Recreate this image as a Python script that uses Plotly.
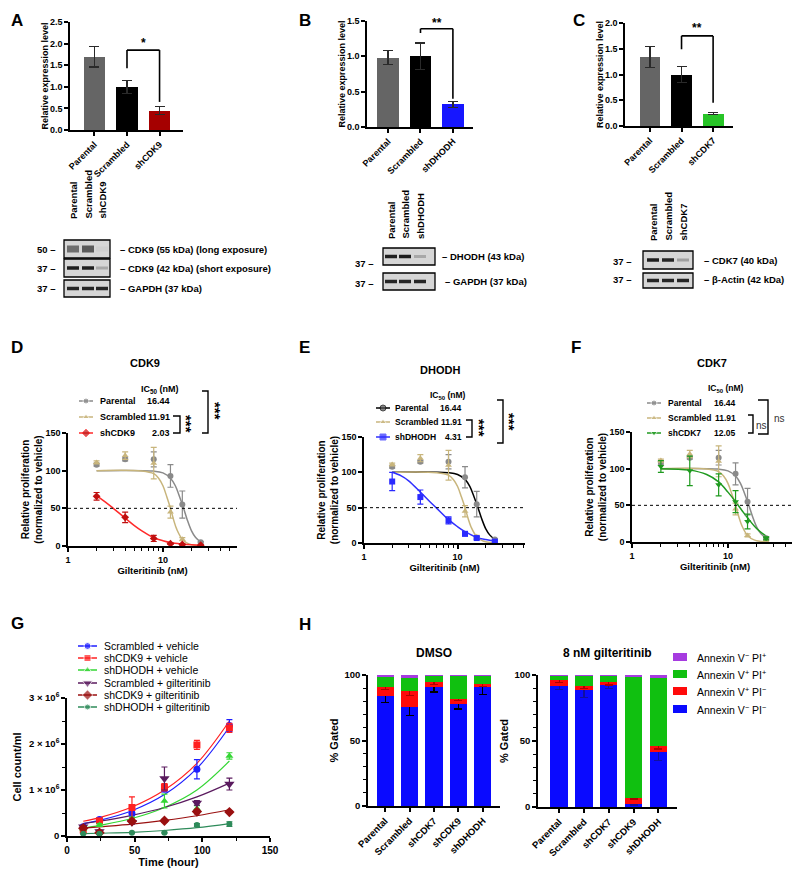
import plotly.graph_objects as go

FONT = "Arial, 'Liberation Sans', sans-serif"
W, H = 800, 874
OFF = 8  # the page body adds an 8 px margin around the plot div

# ---------------- data ----------------
# A-C  relative expression (qPCR)
cdk9_lines = ["Parental", "Scrambled", "shCDK9"]
cdk9_expr = [1.70, 1.00, 0.45]
cdk9_expr_sd = [0.24, 0.15, 0.09]

dhodh_lines = ["Parental", "Scrambled", "shDHODH"]
dhodh_expr = [0.98, 1.00, 0.32]
dhodh_expr_sd = [0.10, 0.19, 0.04]

cdk7_lines = ["Parental", "Scrambled", "shCDK7"]
cdk7_expr = [1.34, 1.00, 0.24]
cdk7_expr_sd = [0.20, 0.16, 0.02]

# D-F  dose response
dose_nM = [2, 4, 8, 12, 16, 25]
parental_prolif = [108, 115, 115, 93, 55, 5]
parental_err = [2, 2, 10, 15, 18, 1]
scrambled_prolif = [111, 120, 110, 45, 9, 1]
scrambled_err = [2, 5, 21, 8, 2, 1]
shcdk9_prolif = [66, 38, 10, 3, 2, 1]
shcdk9_err = [5, 7, 4, 1, 1, 0.5]
shdhodh_prolif = [87, 65, 32, 13, 7, 2]
shdhodh_err = [13, 10, 5, 3, 2, 1]
shcdk7_prolif = [103, 97, 78, 55, 28, 5]
shcdk7_err = [8, 20, 15, 15, 10, 2]

# fitted curves
fit_parental_x = [2, 8, 10, 12, 13.5, 15, 16.5, 18, 20, 22, 25]
fit_parental_y = [100, 99.4, 97, 90, 80, 65, 50, 35, 20, 11.5, 5]
fit_scrambled_x = [2, 6, 8, 9, 10, 11, 12, 13, 14, 16, 19, 25]
fit_scrambled_y = [100, 99.5, 96, 90, 80, 65, 50, 34, 22, 9, 2.5, 0.3]
fit_shcdk9_x = [2, 2.5, 3, 4, 5, 6, 8, 10, 12, 16, 20, 25]
fit_shcdk9_y = [67, 58, 50, 37, 27, 20, 11, 7, 4.5, 2.5, 1.5, 1]
fit_shdhodh_x = [2, 2.5, 3, 4, 5, 6, 8, 10, 12, 16, 20, 25]
fit_shdhodh_y = [100, 95, 88, 72, 59, 49, 33, 23, 16, 8, 5, 3]
fit_shcdk7_x = [2, 4, 6, 8, 10, 12, 14, 16, 20, 25]
fit_shcdk7_y = [100, 98, 92, 82, 68, 55, 43, 33, 18, 8]

ic50_cdk9 = ["16.44", "11.91", "2.03"]
ic50_dhodh = ["16.44", "11.91", "4.31"]
ic50_cdk7 = ["16.44", "11.91", "12.05"]

# G  growth curves (cells/ml, x1e6)
time_h = [12, 24, 48, 72, 96, 120]
scr_veh = [0.20, 0.36, 0.49, 1.02, 1.45, 2.40]
scr_veh_err = [0.03, 0.03, 0.05, 0.06, 0.21, 0.13]
cdk9_veh = [0.13, 0.33, 0.62, 1.06, 1.98, 2.35]
cdk9_veh_err = [0.05, 0.04, 0.23, 0.08, 0.10, 0.10]
dhodh_veh = [0.15, 0.24, 0.37, 0.76, 0.60, 1.74]
dhodh_veh_err = [0.03, 0.03, 0.04, 0.15, 0.06, 0.07]
scr_gil = [0.20, 0.10, 0.30, 1.25, 0.72, 1.13]
scr_gil_err = [0.02, 0.03, 0.04, 0.25, 0.05, 0.13]
cdk9_gil = [0.17, 0.07, 0.32, 0.33, 0.53, 0.52]
cdk9_gil_err = [0.02, 0.02, 0.03, 0.03, 0.05, 0.03]
dhodh_gil = [0.05, 0.05, 0.07, 0.07, 0.24, 0.26]
dhodh_gil_err = [0.01, 0.01, 0.01, 0.01, 0.03, 0.05]

scr_veh_fit = [0.27, 0.34, 0.55, 0.90, 1.47, 2.37]
cdk9_veh_fit = [0.32, 0.40, 0.63, 1.00, 1.58, 2.50]
dhodh_veh_fit = [0.17, 0.23, 0.38, 0.62, 1.00, 1.63]
scr_gil_fit = [0.27, 0.32, 0.45, 0.62, 0.85, 1.15]
cdk9_gil_fit = [0.17, 0.20, 0.26, 0.34, 0.44, 0.57]
dhodh_gil_fit = [0.05, 0.06, 0.08, 0.12, 0.18, 0.27]

# H  apoptosis (% gated)
h_lines = ["Parental", "Scrambled", "shCDK7", "shCDK9", "shDHODH"]
dmso_vneg_pineg = [84, 75.5, 90.5, 78, 91]
dmso_vpos_pineg = [6.5, 12, 4.5, 3.5, 2]
dmso_vpos_pipos = [8.5, 10.5, 4.5, 18, 6.5]
dmso_vneg_pipos = [1, 2, 0.5, 0.5, 0.5]
dmso_blue_err = [5, 6.5, 3.5, 4, 6]
dmso_red_err = [1.5, 3, 2.5, 1, 1.5]
gil_vneg_pineg = [92, 89, 92.5, 2, 42]
gil_vpos_pineg = [4, 3, 2.5, 5, 4]
gil_vpos_pipos = [3.5, 7.5, 4.5, 91.5, 52]
gil_vneg_pipos = [0.5, 0.5, 0.5, 1.5, 2]
gil_blue_err = [3, 6, 3, 0.5, 7]
gil_red_err = [1.5, 2, 2.5, 1, 2]

# ---------------- helpers ----------------
def xdom(a, b):
    return [(a - OFF) / W, (b - OFF) / W]

def ydom(top, bot):
    return [1 - (bot - OFF) / H, 1 - (top - OFF) / H]

def bfont(size, bold=True, color="black"):
    return dict(family=FONT, size=size, color=color, weight="bold" if bold else "normal")

def axis(**kw):
    d = dict(showline=True, linecolor="black", linewidth=1.5, ticks="outside",
             ticklen=4, tickwidth=1.5, tickcolor="black", showgrid=False,
             zeroline=False, tickfont=bfont(9), fixedrange=True, automargin=False)
    d.update(kw)
    return d

def ax_title(text, size=9.5, standoff=None):
    t = dict(text=text, font=bfont(size))
    if standoff is not None:
        t["standoff"] = standoff
    return t

fig = go.Figure()
anns = []
shapes = []

def txt(x, y, s, size=9.5, bold=True, xa="center", ya="middle", angle=0, color="black"):
    anns.append(dict(x=x, y=y, xref="x10", yref="y10", text=s, showarrow=False,
                     xanchor=xa, yanchor=ya, textangle=angle, font=bfont(size, bold, color)))

def pline(pts, width=1.4, color="black"):
    path = "M " + " L ".join(f"{x},{y}" for x, y in pts)
    shapes.append(dict(type="path", path=path, xref="x10", yref="y10",
                       line=dict(color=color, width=width), layer="above"))

def prect(x0, y0, x1, y1, fill, lw=0, lc="black"):
    shapes.append(dict(type="rect", x0=x0, x1=x1, y0=y0, y1=y1, xref="x10", yref="y10",
                       fillcolor=fill, line=dict(color=lc, width=lw), layer="above"))

# ---------------- A-C bars ----------------
GRAY = "#656565"
bar_panels = [
    ("", cdk9_lines, cdk9_expr, cdk9_expr_sd, "#a50000"),
    ("2", dhodh_lines, dhodh_expr, dhodh_expr_sd, "#1616ff"),
    ("3", cdk7_lines, cdk7_expr, cdk7_expr_sd, "#27c427"),
]
for ax, labels, mean, sd, col in bar_panels:
    fig.add_trace(go.Bar(x=labels, y=mean, width=0.66,
                         marker=dict(color=[GRAY, "black", col], line=dict(width=0)),
                         error_y=dict(type="data", array=sd, color="#2a2a2a", thickness=1.2, width=5),
                         xaxis="x" + ax, yaxis="y" + ax, showlegend=False, hoverinfo="skip"))

def bracket(ax, left_y, top_y, right_y, a, b, label, star_y):
    xr, yr = "x" + ax, "y" + ax
    for x0, y0, x1, y1 in [(a, left_y, a, top_y), (a, top_y, b, top_y), (b, top_y, b, right_y)]:
        shapes.append(dict(type="line", x0=x0, x1=x1, y0=y0, y1=y1, xref=xr, yref=yr,
                           line=dict(color="black", width=1.6)))
    anns.append(dict(x=1.5, y=star_y, xref=xr, yref=yr, text=label, showarrow=False,
                     font=bfont(12)))

bracket("", 1.43, 1.85, 0.65, "Scrambled", "shCDK9", "*", 2.02)
bracket("2", 1.33, 1.39, 0.40, "Scrambled", "shDHODH", "**", 1.47)
bracket("3", 1.49, 1.75, 0.45, "Scrambled", "shCDK7", "**", 1.90)

# ---------------- D-F dose response ----------------
C_PAR = "#8a8a8a"
C_SCR = "#c8b57c"

def dr_panel(ax, curves, points):
    for fx, fy, col in curves:
        fig.add_trace(go.Scatter(x=fx, y=fy, mode="lines", line=dict(color=col, width=1.5, shape="spline"),
                                 xaxis="x" + ax, yaxis="y" + ax, showlegend=False, hoverinfo="skip"))
    for y, err, col, sym, size in points:
        fig.add_trace(go.Scatter(x=dose_nM, y=y, mode="markers",
                                 marker=dict(color=col, symbol=sym, size=size),
                                 error_y=dict(type="data", array=err, color=col, thickness=1.2, width=3),
                                 xaxis="x" + ax, yaxis="y" + ax, showlegend=False, hoverinfo="skip"))
    shapes.append(dict(type="line", xref="x" + ax + " domain", x0=0, x1=1, yref="y" + ax, y0=50, y1=50,
                       line=dict(color="black", width=1, dash="dot")))

dr_panel("4",
         [(fit_parental_x, fit_parental_y, C_PAR), (fit_scrambled_x, fit_scrambled_y, C_SCR),
          (fit_shcdk9_x, fit_shcdk9_y, "#ff2a2a")],
         [(parental_prolif, parental_err, C_PAR, "circle", 6),
          (scrambled_prolif, scrambled_err, C_SCR, "triangle-up", 6),
          (shcdk9_prolif, shcdk9_err, "#c01010", "diamond", 6)])
dr_panel("5",
         [(fit_parental_x, fit_parental_y, "black"), (fit_scrambled_x, fit_scrambled_y, C_SCR),
          (fit_shdhodh_x, fit_shdhodh_y, "#3030ff")],
         [(parental_prolif, parental_err, C_PAR, "circle", 6),
          (scrambled_prolif, scrambled_err, C_SCR, "triangle-up", 6),
          (shdhodh_prolif, shdhodh_err, "#2a2aff", "square", 6)])
dr_panel("6",
         [(fit_parental_x, fit_parental_y, C_PAR), (fit_scrambled_x, fit_scrambled_y, C_SCR),
          (fit_shcdk7_x, fit_shcdk7_y, "#1f9a1f")],
         [(parental_prolif, parental_err, C_PAR, "circle", 6),
          (scrambled_prolif, scrambled_err, C_SCR, "triangle-up", 6),
          (shcdk7_prolif, shcdk7_err, "#1f9a1f", "triangle-down", 6)])

# ---------------- G growth ----------------
g_series = [
    ("Scrambled + vehicle", scr_veh, scr_veh_err, scr_veh_fit, "#1e1eff", "circle", 7),
    ("shCDK9 + vehicle", cdk9_veh, cdk9_veh_err, cdk9_veh_fit, "#ff2020", "square", 7),
    ("shDHODH + vehicle", dhodh_veh, dhodh_veh_err, dhodh_veh_fit, "#33d633", "triangle-up", 7),
    ("Scrambled + gilteritinib", scr_gil, scr_gil_err, scr_gil_fit, "#5a1a5e", "triangle-down", 9),
    ("shCDK9 + gilteritinib", cdk9_gil, cdk9_gil_err, cdk9_gil_fit, "#9a1010", "diamond", 8),
    ("shDHODH + gilteritinib", dhodh_gil, dhodh_gil_err, dhodh_gil_fit, "#2e8b5a", "circle", 6),
]
for name, y, err, fit, col, sym, size in g_series:
    fig.add_trace(go.Scatter(x=time_h, y=[v * 1e6 for v in fit], mode="lines",
                             line=dict(color=col, width=1.2, shape="spline"),
                             xaxis="x7", yaxis="y7", showlegend=False, hoverinfo="skip"))
for name, y, err, fit, col, sym, size in g_series:
    fig.add_trace(go.Scatter(x=time_h, y=[v * 1e6 for v in y], mode="markers",
                             marker=dict(color=col, symbol=sym, size=size),
                             error_y=dict(type="data", array=[e * 1e6 for e in err], color=col,
                                          thickness=1.2, width=3),
                             xaxis="x7", yaxis="y7", showlegend=False, hoverinfo="skip"))

# ---------------- H stacked bars ----------------
C_BLUE, C_RED, C_GREEN, C_PURP = "#0a0aff", "#ff0a0a", "#10c010", "#a63be0"
for ax, stacks, berr, rerr, bcol in [
        ("8", [dmso_vneg_pineg, dmso_vpos_pineg, dmso_vpos_pipos, dmso_vneg_pipos], dmso_blue_err, dmso_red_err, "black"),
        ("9", [gil_vneg_pineg, gil_vpos_pineg, gil_vpos_pipos, gil_vneg_pipos], gil_blue_err, gil_red_err, "#1010a0")]:
    for vals, col, err, ecol in zip(stacks, [C_BLUE, C_RED, C_GREEN, C_PURP],
                                    [berr, rerr, None, None], [bcol, "#b00000", None, None]):
        kw = {}
        if err is not None:
            kw["error_y"] = dict(type="data", array=err, color=ecol, thickness=1.2, width=4)
        fig.add_trace(go.Bar(x=h_lines, y=vals, width=0.7, marker=dict(color=col, line=dict(width=0)),
                             xaxis="x" + ax, yaxis="y" + ax, showlegend=False, hoverinfo="skip", **kw))

# ---------------- overlay: legends, blots, labels ----------------
def glyph(x1, x2, y, lcol, mcol, sym, size):
    fig.add_trace(go.Scatter(x=[x1, (x1 + x2) / 2, x2], y=[y, y, y], mode="lines+markers",
                             line=dict(color=lcol, width=1.5),
                             marker=dict(color=mcol, symbol=sym, size=[0, size, 0]),
                             xaxis="x10", yaxis="y10", showlegend=False, hoverinfo="skip"))

# D legend
for (nm, val, lcol, mcol, sym), yy in zip(
        [("Parental", ic50_cdk9[0], C_PAR, C_PAR, "circle"),
         ("Scrambled", ic50_cdk9[1], C_SCR, C_SCR, "triangle-up"),
         ("shCDK9", ic50_cdk9[2], "#ff2a2a", "#c01010", "diamond")], [401, 417, 433]):
    glyph(79, 93, yy, lcol, mcol, sym, 6)
    txt(98, yy, nm, size=9, xa="left")
    txt(172, yy, val, size=9, xa="right")
txt(160, 389, "IC<sub>50</sub> (nM)", size=9)
pline([(173, 416), (180, 416), (180, 433), (173, 433)])
txt(187, 424, "***", size=15, angle=90)
pline([(202, 391), (208, 391), (208, 433), (202, 433)])
txt(216, 411, "***", size=15, angle=90)

# E legend
for (nm, val, lcol, mcol, sym), yy in zip(
        [("Parental", ic50_dhodh[0], "black", "#555555", "circle"),
         ("Scrambled", ic50_dhodh[1], C_SCR, C_SCR, "triangle-up"),
         ("shDHODH", ic50_dhodh[2], "#3030ff", "#2a2aff", "square")], [408, 422, 437]):
    glyph(376, 390, yy, lcol, mcol, sym, 6)
    txt(393, yy, nm, size=8.5, xa="left")
    txt(464, yy, val, size=8.5, xa="right")
txt(448, 395, "IC<sub>50</sub> (nM)", size=8.5)
pline([(466, 420), (472, 420), (472, 437), (466, 437)])
txt(480, 428, "***", size=15, angle=90)
pline([(497, 400), (503, 400), (503, 443), (497, 443)])
txt(510, 422, "***", size=15, angle=90)

# F legend
for (nm, val, lcol, mcol, sym), yy in zip(
        [("Parental", ic50_cdk7[0], C_PAR, C_PAR, "circle"),
         ("Scrambled", ic50_cdk7[1], C_SCR, C_SCR, "triangle-up"),
         ("shCDK7", ic50_cdk7[2], "#1f9a1f", "#1f9a1f", "triangle-down")], [403, 418, 433]):
    glyph(647, 661, yy, lcol, mcol, sym, 6)
    txt(666, yy, nm, size=8.5, xa="left")
    txt(738, yy, val, size=8.5, xa="right")
txt(726, 388, "IC<sub>50</sub> (nM)", size=8.5)
pline([(748, 415), (753, 415), (753, 433), (748, 433)])
txt(761, 425, "ns", size=10, bold=False, color="#333")
pline([(758, 400), (768, 400), (768, 434), (758, 434)])
txt(779, 418, "ns", size=10, bold=False, color="#333")

# G legend
for (name, y, err, fit, col, sym, size), yy in zip(g_series, [646, 658, 670, 683, 695, 707]):
    glyph(78, 97, yy, col, col, sym, size)
    txt(102, yy, name, size=10.5, bold=False, xa="left")

# H legend
h_leg = [("Annexin V<sup>−</sup> PI<sup>+</sup>", C_PURP), ("Annexin V<sup>+</sup> PI<sup>+</sup>", C_GREEN),
         ("Annexin V<sup>+</sup> PI<sup>−</sup>", C_RED), ("Annexin V<sup>−</sup> PI<sup>−</sup>", C_BLUE)]
for (lab, col), yy in zip(h_leg, [657, 674, 691, 709]):
    prect(673, yy - 4, 687, yy + 4, col)
    txt(695, yy, lab, size=10.5, bold=False, xa="left")

# panel letters and titles
for letter, x, y, ya in [("A", 8.5, 8.5, "top"), ("B", 297, 8.5, "top"), ("C", 571, 8.5, "top"),
                         ("D", 8.5, 347, "middle"), ("E", 297, 347, "middle"), ("F", 569, 347, "middle"),
                         ("G", 8.5, 623, "middle"), ("H", 297, 624, "middle")]:
    txt(x, y, letter, size=17, xa="left", ya=ya)
txt(145, 363, "CDK9", size=11)
txt(440, 370, "DHODH", size=11)
txt(712, 363, "CDK7", size=11)
txt(434, 653, "DMSO", size=12)
txt(607, 653, "8 nM gilteritinib", size=12)

# western blots
def blot(x0, x1, rows, lanes, bands):
    for (t, b), row in zip(rows, bands):
        prect(x0, t, x1, b, "#d6d6d6", lw=1.3)
        for lx, (col, th) in zip(lanes, row):
            if col:
                prect(lx - 6, (t + b) / 2 - th / 2, lx + 6, (t + b) / 2 + th / 2, col)

# A blot
a_lanes = [73, 88, 102]
for lx, lab in zip(a_lanes, cdk9_lines):
    txt(lx, 221, lab, size=9.5, angle=-90, ya="bottom")
blot(64, 110, [(240, 258), (259, 277), (280, 297)], a_lanes,
     [[("#6e6e6e", 7), ("#5a5a5a", 7), ("#cfcfcf", 5)],
      [("#1e1e1e", 3.5), ("#1e1e1e", 3.5), ("#a8a8a8", 3)],
      [("#262626", 3.5), ("#262626", 3.5), ("#262626", 3.5)]])
for yy, lab, mw in [(249, "CDK9 (55 kDa) (long exposure)", "50"), (268, "CDK9 (42 kDa) (short exposure)", "37"),
                    (288, "GAPDH (37 kDa)", "37")]:
    txt(58, yy, mw + " –", xa="right")
    txt(118, yy, "– " + lab, xa="left")

# B blot
b_lanes = [391, 405, 420]
for lx, lab in zip(b_lanes, dhodh_lines):
    txt(lx, 241, lab, size=9.5, angle=-90, ya="bottom")
blot(383, 435, [(248, 265), (273, 290)], b_lanes,
     [[("#1e1e1e", 3.5), ("#1e1e1e", 3.5), ("#a8a8a8", 3)],
      [("#262626", 3.5), ("#262626", 3.5), ("#262626", 3.5)]])
txt(376, 263, "37 –", xa="right")
txt(376, 283, "37 –", xa="right")
txt(440, 256, "– DHODH (43 kDa)", xa="left")
txt(443, 281, "– GAPDH (37 kDa)", xa="left")

# C blot
c_lanes = [653, 668, 683]
for lx, lab in zip(c_lanes, cdk7_lines):
    txt(lx, 243, lab, size=9.5, angle=-90, ya="bottom")
blot(643, 693, [(251, 269), (273, 288)], c_lanes,
     [[("#1e1e1e", 3.5), ("#262626", 3.5), ("#a0a0a0", 3)],
      [("#262626", 3.5), ("#262626", 3.5), ("#262626", 3.5)]])
txt(634, 261, "37 –", xa="right")
txt(634, 279, "37 –", xa="right")
txt(702, 260, "– CDK7 (40 kDa)", xa="left")
txt(702, 279, "– β-Actin (42 kDa)", xa="left")

# ---------------- layout ----------------
expr_title = ax_title("Relative expression level", 9, standoff=0)
prolif_title = ax_title("Relative proliferation<br>(normalized to vehicle)", 10, standoff=1)
gil_title = ax_title("Gilteritinib (nM)", 9.5, standoff=3)
log_minor = dict(ticks="outside", ticklen=3, tickwidth=1.2, tickcolor="black",
                 tickmode="array", tickvals=[2, 3, 4, 5, 6, 7, 8, 9, 20, 30, 40, 50])
lin_minor = dict(ticks="outside", ticklen=3, tickwidth=1.2, tickcolor="black")

layout = dict(
    width=W, height=H, margin=dict(l=0, r=0, t=0, b=0, pad=0, autoexpand=False),
    paper_bgcolor="white", plot_bgcolor="rgba(0,0,0,0)",
    barmode="stack", font=dict(family=FONT, color="black"),
    showlegend=False,
    # A
    xaxis=axis(domain=xdom(70, 183), anchor="y", range=[-0.75, 2.72], tickangle=-45),
    yaxis=axis(domain=ydom(22, 130), anchor="x", range=[0, 2.5], dtick=0.5, tickformat=".1f", title=expr_title),
    # B
    xaxis2=axis(domain=xdom(367, 473), anchor="y2", range=[-0.65, 2.62], tickangle=-45),
    yaxis2=axis(domain=ydom(21, 127), anchor="x2", range=[0, 1.5], dtick=0.5, tickformat=".1f", title=expr_title),
    # C
    xaxis3=axis(domain=xdom(625, 733), anchor="y3", range=[-0.79, 2.63], tickangle=-45),
    yaxis3=axis(domain=ydom(23, 126), anchor="x3", range=[0, 2.0], dtick=0.5, tickformat=".1f", title=expr_title),
    # D
    xaxis4=axis(domain=xdom(68, 237), anchor="y4", type="log", range=[0, 1.78], tickvals=[1, 10],
                ticktext=["1", "10"], minor=log_minor, title=gil_title),
    yaxis4=axis(domain=ydom(433, 546), anchor="x4", range=[0, 150], dtick=50, title=prolif_title),
    # E
    xaxis5=axis(domain=xdom(364, 525), anchor="y5", type="log", range=[0, 1.72], tickvals=[1, 10],
                ticktext=["1", "10"], minor=log_minor, title=gil_title),
    yaxis5=axis(domain=ydom(437, 543), anchor="x5", range=[0, 150], dtick=50, title=prolif_title),
    # F
    xaxis6=axis(domain=xdom(632, 798), anchor="y6", type="log", range=[0, 1.73], tickvals=[1, 10],
                ticktext=["1", "10"], minor=log_minor, title=gil_title),
    yaxis6=axis(domain=ydom(432, 542), anchor="x6", range=[0, 150], dtick=50, title=prolif_title),
    # G
    xaxis7=axis(domain=xdom(67, 270), anchor="y7", range=[0, 150], dtick=50, tickfont=bfont(10),
                minor=dict(lin_minor, dtick=25), title=ax_title("Time (hour)", 11, standoff=1)),
    yaxis7=axis(domain=ydom(698, 836), anchor="x7", range=[0, 3e6], tickvals=[0, 1e6, 2e6, 3e6],
                ticktext=["0", "1 × 10<sup>6</sup>", "2 × 10<sup>6</sup>", "3 × 10<sup>6</sup>"],
                tickfont=bfont(9.5), minor=dict(lin_minor, dtick=5e5),
                title=ax_title("Cell count/ml", 11, standoff=5)),
    # H DMSO
    xaxis8=axis(domain=xdom(368, 500), anchor="y8", range=[-0.7, 4.7], tickangle=-45, tickfont=bfont(9.5)),
    yaxis8=axis(domain=ydom(675, 806), anchor="x8", range=[0, 100], dtick=50, tickfont=bfont(9.5),
                minor=dict(lin_minor, dtick=10), title=ax_title("% Gated", 11, standoff=4)),
    # H gilteritinib
    xaxis9=axis(domain=xdom(538, 677), anchor="y9", range=[-0.85, 4.75], tickangle=-45, tickfont=bfont(9.5)),
    yaxis9=axis(domain=ydom(675, 807), anchor="x9", range=[0, 100], dtick=50, tickfont=bfont(9.5),
                minor=dict(lin_minor, dtick=10), title=ax_title("% Gated", 11, standoff=4)),
    # pixel overlay for legends / blots (screen pixels)
    xaxis10=dict(domain=[0, 1], range=[OFF, W + OFF], visible=False, fixedrange=True, anchor="y10"),
    yaxis10=dict(domain=[0, 1], range=[H + OFF, OFF], visible=False, fixedrange=True, anchor="x10"),
    annotations=anns,
    shapes=shapes,
)
fig.update_layout(**layout)

fig.write_html("out.html")
